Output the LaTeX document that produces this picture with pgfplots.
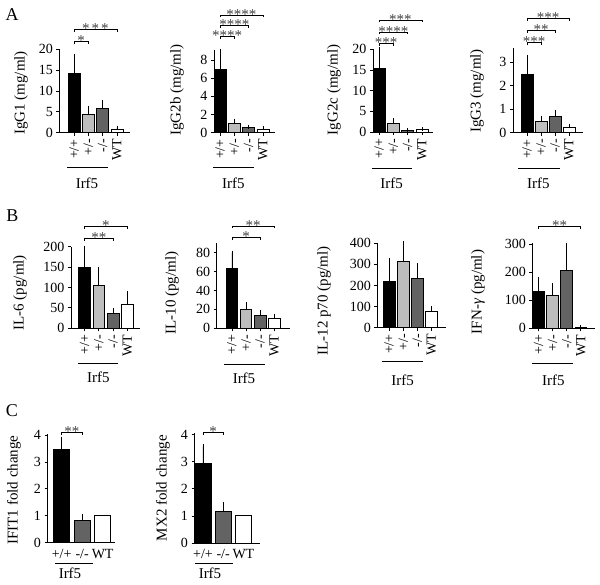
\documentclass[border=0pt]{standalone}
\usepackage{fontspec}
\setmainfont{Liberation Serif}
\usepackage{pgfplots}
\pgfplotsset{compat=1.18}
\definecolor{lg}{HTML}{BDBDBD}
\definecolor{dg}{HTML}{636363}

\pgfplotsset{
 panel/.style={
  axis x line=bottom, axis y line=left,
  axis line style={-, line width=0.8pt, black},
  ymin=0, enlargelimits=false, clip=false,
  tick align=outside, major tick length=3pt,
  tick style={black, line width=0.8pt},
  tick label style={font=\fontsize{14}{14}\selectfont},
  /pgf/number format/assume math mode=true,
  ylabel style={font=\fontsize{15}{15}\selectfont},
  anchor=south west,
 },
 rowab/.style={panel, xtick={0,1,2,3}, xticklabels={+/+,+/-,-/-,WT},
   xticklabel style={rotate=90, anchor=east}},
 rowc/.style={panel, xtick={0,1,2}, xticklabels={+/+,-/-,WT}, x tick style={draw=none}},
}
% bar with upward error bar
\newcommand\B[4]{\addplot[ybar, bar shift=0pt, fill=#1, draw=black, line width=0.8pt,
  error bars/.cd, y dir=plus, y explicit, error bar style={line width=0.8pt, black},
  error mark options={line width=0.8pt, mark size=2pt, black}] coordinates {(#2,#3) +- (0,#4)};}
% bar without error bar
\newcommand\N[3]{\addplot[ybar, bar shift=0pt, fill=#1, draw=black, line width=0.8pt] coordinates {(#2,#3)};}
% significance bracket
\newcommand\sig[4]{\draw[line width=0.8pt, black] ([yshift=-2.5pt]axis cs:#1,#3) -- (axis cs:#1,#3)
  -- node[midway, anchor=base, yshift=-4.2pt, inner sep=0pt, text=black!75, font=\fontsize{15}{15}\selectfont]{#4}
  (axis cs:#2,#3) -- ([yshift=-2.5pt]axis cs:#2,#3);}

\begin{document}
\begin{tikzpicture}
\path[use as bounding box] (0pt,0pt) rectangle (600pt,584pt);

% ---------------- Row A ----------------
\begin{axis}[rowab, at={(59.3pt,451.3pt)}, x=14.33pt, y=4.17pt, xmin=-1.026, xmax=3.91, ymax=20,
  ytick={0,5,10,15,20}, bar width=12pt, ylabel={IgG1 (mg/ml)},
  ylabel style={at={(axis description cs:-0.542,0.476)}, anchor=center}]
\B{black}{0}{14.1}{4.3}
\B{lg}{1}{4.5}{1.35}
\B{dg}{2}{5.76}{1.54}
\B{white}{3}{0.9}{0.3}
\sig{0}{1}{21.8}{*}
\sig{0}{3}{24.8}{*\hspace{2pt}*\hspace{2pt}*}
\end{axis}

\begin{axis}[rowab, at={(214pt,451.3pt)}, x=14.3pt, y=9.09pt, xmin=-0.42, xmax=3.85, ymax=9.1,
  ytick={0,2,4,6,8}, bar width=12pt, ylabel={IgG2b (mg/ml)},
  ylabel style={at={(axis description cs:-0.606,0.516)}, anchor=center}]
\B{black}{0}{6.97}{2.03}
\B{lg}{1}{1.03}{0.29}
\B{dg}{2}{0.55}{0.11}
\B{white}{3}{0.37}{0.11}
\sig{0}{1}{10.56}{****}
\sig{0}{2}{11.81}{****}
\sig{0}{3}{12.95}{****}
\end{axis}

\begin{axis}[rowab, at={(373pt,452pt)}, x=14.3pt, y=4.135pt, xmin=-0.42, xmax=3.78, ymax=20,
  ytick={0,5,10,15,20}, bar width=12pt, ylabel={IgG2c (mg/ml)},
  ylabel style={at={(axis description cs:-0.649,0.508)}, anchor=center}]
\B{black}{0}{15.4}{4.6}
\B{lg}{1}{2.1}{0.8}
\B{dg}{2}{0.3}{0.1}
\B{white}{3}{0.55}{0.15}
\sig{0}{1}{21.45}{***}
\sig{0}{2}{24.2}{****}
\sig{0}{3}{27.1}{***}
\end{axis}

\begin{axis}[rowab, at={(513pt,451.3pt)}, x=14pt, y=23.5pt, xmin=-1.0, xmax=4.0, ymax=3.6,
  ytick={0,1,2,3}, bar width=12pt, ylabel={IgG3 (mg/ml)},
  ylabel style={at={(axis description cs:-0.514,0.493)}, anchor=center}]
\B{black}{0}{2.5}{0.73}
\B{lg}{1}{0.47}{0.17}
\B{dg}{2}{0.71}{0.18}
\B{white}{3}{0.24}{0.04}
\sig{0}{1}{3.83}{***}
\sig{0}{2}{4.34}{**}
\sig{0}{3}{4.87}{***}
\end{axis}

% ---------------- Row B ----------------
\begin{axis}[rowab, at={(71pt,255.7pt)}, x=14.33pt, y=0.408pt, xmin=-0.94, xmax=3.87, ymax=200,
  ytick={0,50,100,150,200}, bar width=11.7pt, ylabel={IL-6 (pg/ml)},
  ylabel style={at={(axis description cs:-0.74,0.436)}, anchor=center}]
\B{black}{0}{148.5}{47.5}
\B{lg}{1}{104.4}{40.6}
\B{dg}{2}{35.9}{9.1}
\B{white}{3}{58.8}{28.2}
\sig{0}{2}{220.6}{**}
\sig{0}{3}{250.7}{*}
\end{axis}

\begin{axis}[rowab, at={(216.7pt,255.7pt)}, x=14.1pt, y=0.945pt, xmin=-1.08, xmax=4.1, ymax=90,
  ytick={0,20,40,60,80}, bar width=11.7pt, ylabel={IL-10 (pg/ml)},
  ylabel style={at={(axis description cs:-0.612,0.415)}, anchor=center}]
\B{black}{0}{63.5}{16.5}
\B{lg}{1}{20.1}{5.6}
\B{dg}{2}{13.3}{4.0}
\B{white}{3}{10.6}{2.7}
\sig{0}{2}{95.9}{*}
\sig{0}{3}{108.3}{**}
\end{axis}

\begin{axis}[rowab, at={(377.3pt,256.3pt)}, x=14.1pt, y=0.211pt, xmin=-0.84, xmax=4.03, ymax=400,
  ytick={0,100,200,300,400}, bar width=11.7pt, ylabel={IL-12 p70 (pg/ml)},
  ylabel style={at={(axis description cs:-0.776,0.316)}, anchor=center}]
\B{black}{0}{219}{100}
\B{lg}{1}{314}{87}
\B{dg}{2}{233}{62}
\B{white}{3}{76}{17}
\end{axis}

\begin{axis}[rowab, at={(532.3pt,255.7pt)}, x=14.1pt, y=0.28pt, xmin=-0.44, xmax=4.0, ymax=303,
  ytick={0,100,200,300}, bar width=11.7pt, ylabel={IFN-\textit{γ} (pg/ml)},
  ylabel style={at={(axis description cs:-0.867,0.428)}, anchor=center}]
\B{black}{0}{131}{44}
\B{lg}{1}{119}{36}
\B{dg}{2}{207}{91}
\B{white}{3}{2.4}{1.0}
\sig{0}{3}{362.9}{**}
\end{axis}

% ---------------- Row C ----------------
\begin{axis}[rowc, at={(47.5pt,41.5pt)}, x=20.5pt, y=26.8pt, xmin=-0.69, xmax=2.6, ymax=4.05,
  ytick={0,1,2,3,4}, bar width=16pt, ylabel={IFIT1 fold change},
  ylabel style={at={(axis description cs:-0.497,0.484)}, anchor=center}]
\B{black}{0}{3.48}{0.4}
\B{dg}{1}{0.83}{0.16}
\N{white}{2}{1.0}
\sig{0}{1}{4.11}{**}
\end{axis}

\begin{axis}[rowc, at={(194.5pt,41pt)}, x=20.2pt, y=27.1pt, xmin=-0.42, xmax=2.82, ymax=4.06,
  ytick={0,1,2,3,4}, bar width=16pt, ylabel={MX2 fold change},
  ylabel style={at={(axis description cs:-0.482,0.498)}, anchor=center}]
\B{black}{0}{2.93}{0.64}
\B{dg}{1}{1.18}{0.27}
\N{white}{2}{1.02}
\sig{0}{1}{4.08}{*}
\end{axis}

% ---------------- group annotations ----------------
\begin{scope}[line width=0.8pt]
\draw (67pt,416.3pt) -- (108pt,416.3pt);
\draw (213.3pt,416.3pt) -- (254pt,416.3pt);
\draw (371.7pt,415.7pt) -- (411.7pt,415.7pt);
\draw (518.3pt,415.7pt) -- (560pt,415.7pt);
\draw (78.3pt,220.7pt) -- (118.3pt,220.7pt);
\draw (224pt,220pt) -- (265pt,220pt);
\draw (381.7pt,222.3pt) -- (423.3pt,222.3pt);
\draw (531.7pt,220.7pt) -- (573.3pt,220.7pt);
\draw (55pt,20.7pt) -- (92.5pt,20.7pt);
\draw (195pt,20.7pt) -- (232.7pt,20.7pt);
\end{scope}
\begin{scope}[every node/.style={font=\fontsize{15}{15}\selectfont, inner sep=0pt}]
\node at (87pt,401pt) {Irf5};
\node at (233.3pt,401pt) {Irf5};
\node at (391.7pt,401pt) {Irf5};
\node at (538.3pt,401pt) {Irf5};
\node at (98.3pt,206.3pt) {Irf5};
\node at (244pt,206pt) {Irf5};
\node at (402.7pt,203.5pt) {Irf5};
\node at (553.3pt,204pt) {Irf5};
\node at (70pt,10.7pt) {Irf5};
\node at (210pt,10.7pt) {Irf5};
\end{scope}
\begin{scope}[every node/.style={font=\fontsize{18}{18}\selectfont, inner sep=0pt}]
\node at (12pt,569pt) {A};
\node at (12.5pt,368pt) {B};
\node at (12pt,173.5pt) {C};
\end{scope}
\end{tikzpicture}
\end{document}
